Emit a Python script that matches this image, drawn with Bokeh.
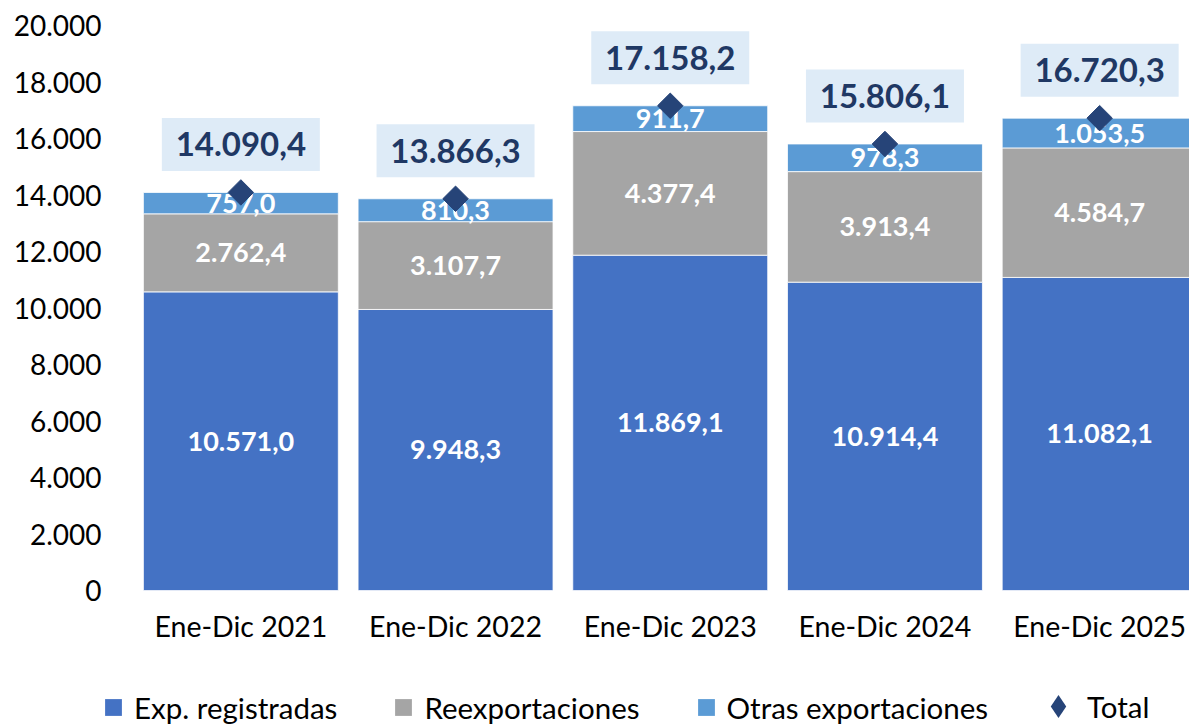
from bokeh.plotting import figure
from bokeh.models import Range1d, Legend, LegendItem, FixedTicker, ColumnDataSource
from bokeh.layouts import column
from bokeh.core.properties import value
from bokeh.embed import file_html
from bokeh.resources import INLINE
import math

categories = ["Ene-Dic 2021", "Ene-Dic 2022", "Ene-Dic 2023", "Ene-Dic 2024", "Ene-Dic 2025"]
exp_registradas = [10571.0, 9948.3, 11869.1, 10914.4, 11082.1]
reexportaciones = [2762.4, 3107.7, 4377.4, 3913.4, 4584.7]
otras_exportaciones = [757.0, 810.3, 911.7, 978.3, 1053.5]
total = [14090.4, 13866.3, 17158.2, 15806.1, 16720.3]
y_ticks = [0, 2000, 4000, 6000, 8000, 10000, 12000, 14000, 16000, 18000, 20000]
y_tick_labels = ["0", "2.000", "4.000", "6.000", "8.000", "10.000", "12.000",
                 "14.000", "16.000", "18.000", "20.000"]
series_names = ["Exp. registradas", "Reexportaciones", "Otras exportaciones", "Total"]

FONT = "Lato"
C_EXP = "#4472C4"
C_REEX = "#A5A5A5"
C_OTRAS = "#5B9BD5"
C_TOTAL = "#264478"
C_TOTAL_TXT = "#1F3864"
C_BOX = "#DEEBF7"


def es(v):
    return f"{v:,.1f}".replace(",", "X").replace(".", ",").replace("X", ".")


x = list(range(len(categories)))
b1 = [0.0] * len(x)
t1 = exp_registradas
t2 = [a + b for a, b in zip(t1, reexportaciones)]
t3 = [a + b for a, b in zip(t2, otras_exportaciones)]

W = 1189
MAIN_H, LEG_H = 658, 69
left, top, bottom = 90, 25, 68
first_slot_left = 133
frame_w = W - left
pitch = 214.7
frame_h = MAIN_H - top - bottom
px_per_unit = frame_h / 20000.0
x0 = -0.5 - (first_slot_left - left) / pitch

p = figure(width=W, height=MAIN_H, output_backend="svg", toolbar_location=None,
           x_range=Range1d(x0, x0 + frame_w / pitch), y_range=Range1d(0, 20000),
           min_border_left=left, min_border_right=0, min_border_top=top,
           min_border_bottom=bottom)
p.outline_line_color = None
p.grid.visible = False
p.background_fill_color = "white"

bw = 0.908
p.vbar(x=x, bottom=b1, top=t1, width=bw, fill_color=C_EXP, line_color="white", line_width=0.8)
p.vbar(x=x, bottom=t1, top=t2, width=bw, fill_color=C_REEX, line_color="white", line_width=0.8)
p.vbar(x=x, bottom=t2, top=t3, width=bw, fill_color=C_OTRAS, line_color="white", line_width=0.8)

seg_src = ColumnDataSource(dict(
    x=x * 3,
    y=[(a + b) / 2 for a, b in zip(b1, t1)] + [(a + b) / 2 for a, b in zip(t1, t2)] +
      [(a + b) / 2 for a, b in zip(t2, t3)],
    txt=[es(v) for v in exp_registradas + reexportaciones + otras_exportaciones],
))
p.text(x="x", y="y", text="txt", source=seg_src, text_color="white",
       text_font=value(FONT), text_font_size="27px", text_font_style="bold",
       text_align="center", text_baseline="middle")

# total markers
p.scatter(x=x, y=total, marker="square", size=18, angle=math.pi / 4,
          fill_color=C_TOTAL, line_color=C_TOTAL)

box_off = 48 / px_per_unit
box_y = [t + box_off for t in total]
p.rect(x=x, y=box_y, width=158, height=53, width_units="screen", height_units="screen",
       fill_color=C_BOX, line_color=None)
p.text(x=x, y=box_y, text=[es(v) for v in total], text_color=C_TOTAL_TXT,
       text_font=value(FONT), text_font_size="33px", text_font_style="bold",
       text_align="center", text_baseline="middle")

# axes
p.yaxis.ticker = FixedTicker(ticks=y_ticks)
p.yaxis.major_label_overrides = {t: l for t, l in zip(y_ticks, y_tick_labels)}
p.xaxis.ticker = FixedTicker(ticks=x)
p.xaxis.major_label_overrides = {i: c for i, c in zip(x, categories)}
for ax in (p.xaxis, p.yaxis):
    ax.axis_line_color = None
    ax.major_tick_line_color = None
    ax.minor_tick_line_color = None
    ax.major_label_text_font = FONT
    ax.major_label_text_color = "black"
p.yaxis.major_label_text_font_size = "28px"
p.xaxis.major_label_text_font_size = "28.5px"
p.yaxis.major_label_standoff = -17
p.xaxis.major_label_standoff = 12

# ---- legend strip below the chart ----
lg = figure(width=W, height=LEG_H, output_backend="svg", toolbar_location=None,
            x_range=Range1d(0, 1), y_range=Range1d(0, 1),
            min_border_left=left, min_border_right=0, min_border_top=0, min_border_bottom=0)
lg.axis.visible = False
lg.grid.visible = False
lg.outline_line_color = None

l1 = lg.scatter(x=x, y=exp_registradas, marker="square", fill_color=C_EXP, line_color=None, visible=False)
l2 = lg.scatter(x=x, y=reexportaciones, marker="square", fill_color=C_REEX, line_color=None, visible=False)
l3 = lg.scatter(x=x, y=otras_exportaciones, marker="square", fill_color=C_OTRAS, line_color=None, visible=False)
l4 = lg.scatter(x=x, y=total, marker="diamond", fill_color=C_TOTAL, line_color=None, visible=False)

common = dict(orientation="horizontal", padding=0, margin=0, label_standoff=0,
              label_text_font=FONT, label_text_font_size="29.5px", label_height=31,
              label_text_color="black", background_fill_alpha=0, border_line_color=None,
              inactive_fill_alpha=0)
leg1 = Legend(items=[LegendItem(label=series_names[0], renderers=[l1]),
                     LegendItem(label=series_names[1], renderers=[l2]),
                     LegendItem(label=series_names[2], renderers=[l3])],
              location=(92 - left, -1), glyph_width=42, glyph_height=42, spacing=45, **common)
leg2 = Legend(items=[LegendItem(label=series_names[3], renderers=[l4])],
              location=(1029 - left, -8), glyph_width=58, glyph_height=58, **common)
lg.add_layout(leg1, "center")
lg.add_layout(leg2, "center")

layout = column(p, lg, spacing=0)
open("out.html", "w").write(file_html(layout, INLINE))
